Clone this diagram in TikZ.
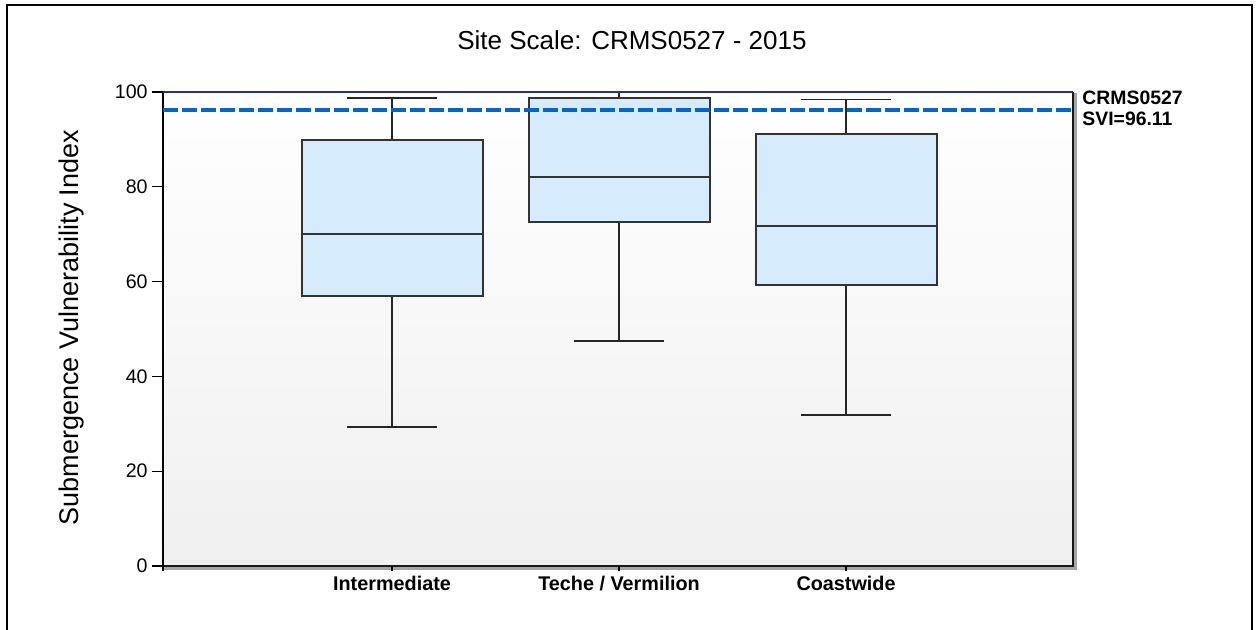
\documentclass[tikz,border=0pt]{standalone}
\usepackage{fontspec}
\setmainfont{Liberation Sans}
\usetikzlibrary{calc}

\definecolor{boxblue}{RGB}{214,236,252}
\definecolor{svidash}{RGB}{0,102,204}
\definecolor{framenavy}{RGB}{40,55,100}

\tikzset{
  whisk/.style={draw=black!85, line width=0.9pt},
  svibox/.style={draw=black!80, line width=1pt, fill=boxblue},
  ticklab/.style={left, inner sep=0pt, font=\fontsize{9.8}{11}\selectfont},
  catlab/.style={anchor=base, inner sep=0pt, font=\bfseries\fontsize{9.9}{11}\selectfont},
}

\begin{document}
\begin{tikzpicture}[x=0.5pt,y=0.5pt]
\pgfmathsetmacro{\u}{4.74}
\pgfmathsetmacro{\yo}{63}
\pgfmathsetmacro{\svi}{96.11}
\useasboundingbox (0,0) rectangle (1257,629);
% outer frame
\draw[line width=1.3pt] (7,-5) -- (7,624) -- (1252,624) -- (1252,-5);
\node (title) at (632,589) {\fontsize{13}{15}\selectfont Site Scale: CRMS0527 - 2015};
% plot area
\shade[top color=white, bottom color=black!6] (163,\yo) rectangle (1073,537);
\draw[black!35, line width=1.2pt] (1075.5,536) -- (1075.5,60.5) -- (164,60.5);
\draw[black!90, line width=0.8pt] (1073,537) -- (1073,\yo) -- (163,\yo);
\draw[line width=0.8pt] (163,537) -- (163,58);
\foreach \v in {0,20,...,100} {
  \draw[line width=0.6pt] (152,{\yo+\u*\v}) -- (163,{\yo+\u*\v});
  \node[ticklab] (yt\v) at (148,{\yo+\u*\v}) {\v};
}
\node[rotate=90, font=\fontsize{13.5}{15}\selectfont] (ylab) at (72,301.5) {Submergence Vulnerability Index};
% boxes
\foreach \c/\lo/\qa/\md/\qb/\hi/\lab in {392/29.3/57/70/89.9/98.7/Intermediate,
    619/47.4/72.6/82.1/98.7/100/{Teche / Vermilion},
    846/31.9/59.3/71.8/91.1/98.4/Coastwide} {
  \draw[whisk] (\c,{\yo+\u*\lo}) -- (\c,{\yo+\u*\qa});
  \draw[whisk] (\c,{\yo+\u*\qb}) -- (\c,{\yo+\u*\hi});
  \draw[whisk] (\c-45,{\yo+\u*\lo}) -- (\c+45,{\yo+\u*\lo});
  \draw[whisk] (\c-45,{\yo+\u*\hi}) -- (\c+45,{\yo+\u*\hi});
  \draw[svibox] (\c-90.5,{\yo+\u*\qa}) rectangle (\c+90.5,{\yo+\u*\qb});
  \draw[svibox, fill=none] (\c-90.5,{\yo+\u*\md}) -- (\c+90.5,{\yo+\u*\md});
  \draw[line width=0.6pt] (\c,\yo) -- (\c,58);
  \node[catlab] (cat\c) at (\c,39) {\lab};
}
\draw[framenavy, line width=0.8pt] (163,537) -- (1073,537);
% site value
\draw[svidash, line width=2pt, dash pattern=on 7.5pt off 2pt] (163,{\yo+\u*\svi}) -- (1073,{\yo+\u*\svi});
\node[anchor=west, inner sep=0pt, font=\bfseries\fontsize{9.7}{11}\selectfont] (leg1) at (1082,531) {CRMS0527};
\node[anchor=west, inner sep=0pt, font=\bfseries\fontsize{9.7}{11}\selectfont] (leg2) at (1082,510) {SVI=96.11};
\end{tikzpicture}
\end{document}
